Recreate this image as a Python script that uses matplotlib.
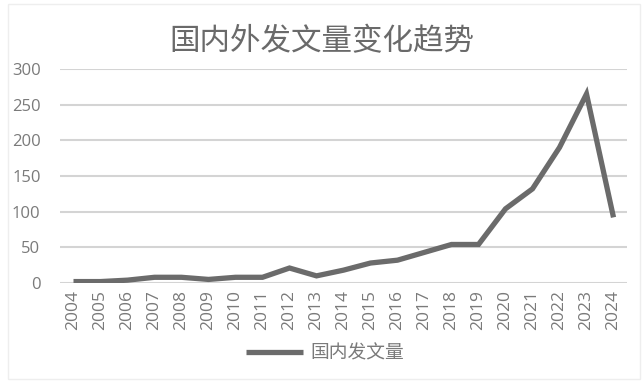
import matplotlib.pyplot as plt
from matplotlib.patches import Rectangle

plt.rcParams['font.family'] = ['Open Sans', 'Noto Sans CJK SC', 'DejaVu Sans']

years = [str(y) for y in range(2004, 2025)]
counts = [2, 2, 4, 8, 8, 5, 8, 8, 21, 10, 18, 28, 32, 43, 54, 54, 104, 132, 190, 265, 92]
yticks = [0, 50, 100, 150, 200, 250, 300]
title = '国内外发文量变化趋势'
series_name = '国内发文量'

line_color = '#6b6b6b'
grid_color = '#d4d4d4'
text_color = '#7a7a7a'

fig = plt.figure(figsize=(6.42, 3.81), dpi=100)
ax = fig.add_axes([60 / 642, 1 - 283 / 381, 567 / 642, 214 / 381])

x = list(range(len(years)))
ax.plot(x, counts, color=line_color, lw=3.8, solid_joinstyle='miter',
        solid_capstyle='butt', label=series_name, zorder=3)

ax.set_xlim(-0.5, len(years) - 0.5)
ax.set_ylim(0, 300)
ax.set_yticks(yticks)
ax.set_xticks(x)
ax.set_xticklabels(years, rotation=90, fontsize=12.5, color=text_color)
ax.tick_params(axis='y', labelsize=12, labelcolor=text_color, length=0, pad=14)
ax.tick_params(axis='x', length=0, pad=5)
ax.grid(axis='y', color=grid_color, lw=1.5)
ax.set_axisbelow(True)
for s in ax.spines.values():
    s.set_visible(False)

fig.text(322 / 642, 1 - 42 / 381, title, ha='center', va='center',
         fontsize=22, color='#6a6a6a', family=['Noto Sans CJK SC', 'DejaVu Sans'],
         fontweight='light')

leg = ax.legend(loc='center', bbox_to_anchor=(325 / 642, 1 - 353 / 381),
                bbox_transform=fig.transFigure, frameon=False, handlelength=3.0,
                handletextpad=0.4,
                prop={'family': ['Noto Sans CJK SC', 'DejaVu Sans'], 'size': 13.5,
                      'weight': 'light'})
for t in leg.get_texts():
    t.set_color(text_color)

fig.patches.append(Rectangle((8 / 642, 0.005), 632 / 642, 0.985, transform=fig.transFigure,
                             fill=False, edgecolor='#eeeeee', lw=1))

fig.savefig('out.png', dpi=100)
